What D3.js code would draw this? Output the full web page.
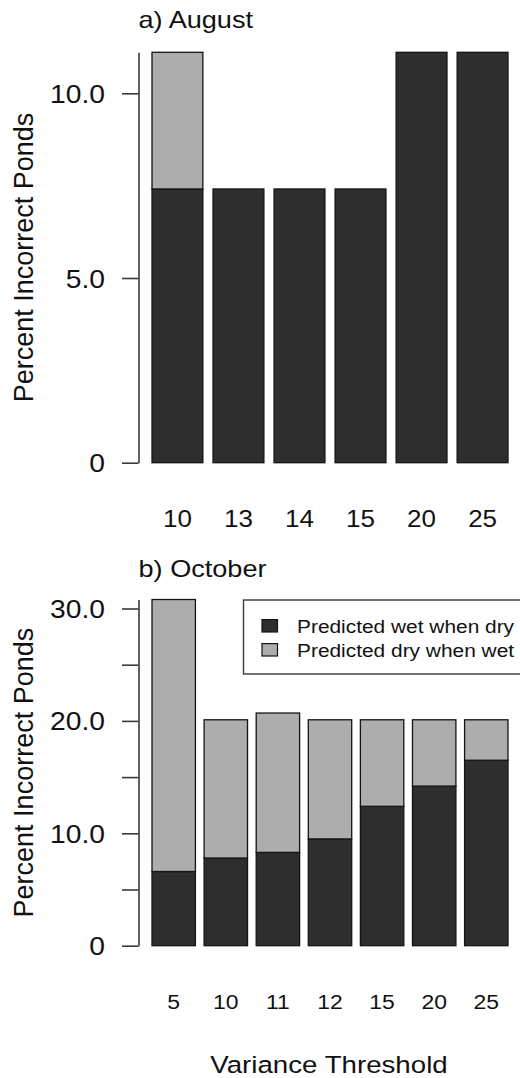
<!DOCTYPE html>
<html><head><meta charset="utf-8">
<script src="https://cdn.jsdelivr.net/npm/d3@7"></script>
<style>
body{margin:0;background:#fff}
svg{display:block}
text{font-family:"Liberation Sans",Arial,Helvetica,sans-serif;fill:#111}
</style>
</head><body>
<svg id="chart" width="520" height="1078"></svg>
<script>
// ---- Data ----
const augCategories = ["10","13","14","15","20","25"];
const augWetWhenDry = [7.41, 7.41, 7.41, 7.41, 11.11, 11.11];
const augDryWhenWet = [3.70, 0, 0, 0, 0, 0];
const augTicks = [0, 5, 10];
const augTickLabels = ["0", "5.0", "10.0"];

const octCategories = ["5","10","11","12","15","20","25"];
const octWetWhenDry = [6.6, 7.8, 8.3, 9.5, 12.4, 14.2, 16.5];
const octDryWhenWet = [24.2, 12.3, 12.4, 10.6, 7.7, 5.9, 3.6];
const octTicks = [0, 5, 10, 15, 20, 25, 30];
const octTickLabels = ["0", "", "10.0", "", "20.0", "", "30.0"];

const seriesKeys = ["wet", "dry"];
const seriesNames = ["Predicted wet when dry", "Predicted dry when wet"];
const panelTitles = ["a) August", "b) October"];
const yTitle = "Percent Incorrect Ponds";
const xTitle = "Variance Threshold";

// ---- Styling ----
const colors = {wet: "#2e2e2e", dry: "#adadad"};
const SX = 1.13; // horizontal glyph stretch seen in the reference
const svg = d3.select("#chart");

function stretchedText(g, x, y, str, size, anchor) {
  return g.append("text")
    .attr("transform", `translate(${x},${y}) scale(${SX},1)`)
    .attr("text-anchor", anchor || "start")
    .style("font-size", size + "px")
    .text(str);
}

function drawPanel(cfg) {
  const rows = cfg.cats.map((c, i) => ({cat: c, wet: cfg.wet[i], dry: cfg.dry[i]}));
  const maxTotal = d3.max(rows, d => d.wet + d.dry);
  const k = (cfg.y0 - cfg.yRefPx) / cfg.yRef;
  const y = d3.scaleLinear().domain([0, maxTotal]).range([cfg.y0, cfg.y0 - maxTotal * k]);
  const x = d3.scaleBand().domain(cfg.cats).range([152, 508]).paddingInner(1/6).paddingOuter(0);

  const stack = d3.stack().keys(seriesKeys)(rows);
  const g = svg.append("g");
  stack.forEach(layer => {
    g.append("g").selectAll("rect")
      .data(layer.filter(d => d[1] - d[0] > 0))
      .join("rect")
      .attr("x", d => x(d.data.cat))
      .attr("width", x.bandwidth())
      .attr("y", d => y(d[1]))
      .attr("height", d => y(d[0]) - y(d[1]))
      .attr("fill", colors[layer.key])
      .attr("stroke", "#141414")
      .attr("stroke-width", 1.3);
  });

  // y axis
  const axis = d3.axisLeft(y)
    .tickValues(cfg.ticks)
    .tickFormat((d, i) => cfg.tickLabels[i])
    .tickSize(16.5)
    .tickSizeOuter(0);
  const ag = svg.append("g").attr("transform", "translate(138.5,0)").call(axis);
  ag.select(".domain").attr("stroke", "#3a3a3a").attr("stroke-width", 1.6);
  ag.selectAll(".tick line").attr("stroke", "#3a3a3a").attr("stroke-width", 1.6);
  ag.selectAll(".tick text")
    .attr("x", -33.5 / SX)
    .attr("dy", "0.36em")
    .attr("transform", `scale(${SX},1)`)
    .style("font-size", "25px")
    .style("font-family", '"Liberation Sans",Arial,sans-serif')
    .attr("fill", "#111");

  // x labels
  cfg.cats.forEach(c => {
    stretchedText(svg, x(c) + x.bandwidth() / 2, cfg.xLabelY, c, cfg.xLabelSize, "middle");
  });

  // title
  stretchedText(svg, 138.5, cfg.titleY, cfg.title, 24, "start");

  // y title
  svg.append("text")
    .attr("transform", `translate(33,${(cfg.y0 + y(maxTotal)) / 2}) rotate(-90)`)
    .attr("text-anchor", "middle")
    .style("font-size", "27px")
    .text(yTitle);
  return {x, y};
}

drawPanel({
  cats: augCategories, wet: augWetWhenDry, dry: augDryWhenWet,
  ticks: augTicks, tickLabels: augTickLabels,
  y0: 462.7, yRef: 10, yRefPx: 93.3,
  xLabelY: 527.3, xLabelSize: 23, titleY: 27.5, title: panelTitles[0]
});

drawPanel({
  cats: octCategories, wet: octWetWhenDry, dry: octDryWhenWet,
  ticks: octTicks, tickLabels: octTickLabels,
  y0: 945.7, yRef: 30, yRefPx: 608.5,
  xLabelY: 1009.3, xLabelSize: 20.3, titleY: 576.7, title: panelTitles[1]
});

// legend
const lg = svg.append("g");
lg.append("rect").attr("x", 243.5).attr("y", 600).attr("width", 300).attr("height", 74)
  .attr("fill", "#fff").attr("stroke", "#3a3a3a").attr("stroke-width", 1.4);
seriesKeys.forEach((key, i) => {
  const cy = 625.8 + i * 24;
  lg.append("rect").attr("x", 262).attr("y", cy - 6.2).attr("width", 15.5).attr("height", 12.4)
    .attr("fill", colors[key]).attr("stroke", "#141414").attr("stroke-width", 1.2);
  stretchedText(lg, 297, cy + 6.8, seriesNames[i], 18.5, "start");
});

// x title
stretchedText(svg, 329, 1072.7, xTitle, 24.5, "middle");
</script>
</body></html>
